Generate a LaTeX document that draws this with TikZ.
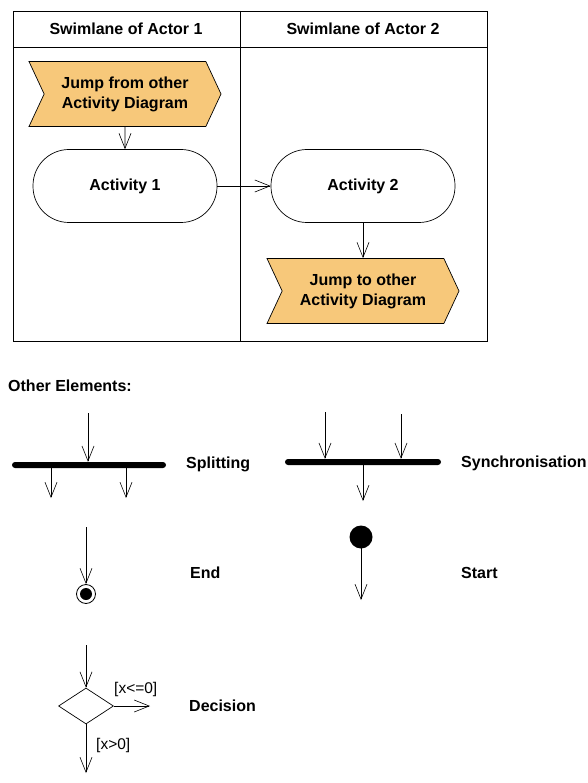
\documentclass[tikz,border=0pt]{standalone}
\usepackage{fontspec}
\setmainfont{Liberation Sans}
\usetikzlibrary{arrows.meta,positioning,shapes.symbols,shapes.geometric}

\definecolor{jumpfill}{RGB}{247,200,122}

\begin{document}
\begin{tikzpicture}[
    x=1pt, y=-1pt,
    txt/.style={font=\bfseries\fontsize{16}{20}\selectfont, align=center, inner sep=0pt},
    guard/.style={font=\fontsize{15.5}{17}\selectfont, inner sep=0pt},
    activity/.style={rectangle, rounded corners=36pt, draw=black, line width=0.7pt, minimum width=184pt, minimum height=73pt, txt},
    jump/.style={signal, signal to=east, signal from=west, signal pointer angle=130, draw=black, line width=0.7pt, fill=jumpfill, minimum width=192pt, minimum height=65pt, txt},
    bar/.style={rectangle, fill=black, rounded corners=3pt, minimum height=6pt, inner sep=0pt},
    flow/.style={-{Straight Barb[length=15pt,width=12pt]}, line width=0.6pt}
]
\useasboundingbox (0,0) rectangle (587,783);

% Swimlanes
\draw[line width=0.8pt] (13,11) rectangle (487,341);
\draw[line width=0.8pt] (13,47) -- (487,47);
\draw[line width=0.8pt] (240,11) -- (240,341);
\node[txt] (lane1) at (126,29) {Swimlane of Actor 1};
\node[txt] (lane2) at (363,29) {Swimlane of Actor 2};

% Activities
\node[jump] (jumpin) at (125,94) {Jump from other\\Activity Diagram};
\node[activity] (act1) at (125,186) {Activity 1};
\node[activity] (act2) at (363,186) {Activity 2};
\node[jump] (jumpout) at (363,291) {Jump to other\\Activity Diagram};

\draw[flow] (jumpin) -- (act1);
\draw[flow] (act1) -- (act2);
\draw[flow] (act2) -- (jumpout);

% Other elements
\node[txt, anchor=west] (other) at (8,386) {Other Elements:};

% Splitting
\node[bar, minimum width=154pt] (split) at (89,465) {};
\coordinate (splitin) at (88,413);
\coordinate (splitl) at (51,498);
\coordinate (splitr) at (126,498);
\draw[flow] (splitin) -- (splitin |- split.north);
\draw[flow] (splitl |- split.center) -- (splitl);
\draw[flow] (splitr |- split.center) -- (splitr);
\node[txt, anchor=west] (splittxt) at (186,464) {Splitting};

% Synchronisation
\node[bar, minimum width=156pt] (sync) at (363,462) {};
\coordinate (syncl) at (325,412);
\coordinate (syncr) at (401,414);
\coordinate (syncout) at (363,501);
\draw[flow] (syncl) -- (syncl |- sync.north);
\draw[flow] (syncr) -- (syncr |- sync.north);
\draw[flow] (syncout |- sync.center) -- (syncout);
\node[txt, anchor=west] (synctxt) at (461,463) {Synchronisation};

% End
\node[circle, draw=black, line width=0.8pt, minimum size=19pt, inner sep=0pt] (endo) at (86,594) {};
\node[circle, fill=black, minimum size=12pt, inner sep=0pt] (endi) at (86,594) {};
\coordinate (endin) at (86,527);
\draw[flow] (endin) -- (endo.north);
\node[txt, anchor=west] (endtxt) at (190,573) {End};

% Start
\node[circle, fill=black, minimum size=23pt, inner sep=0pt] (start) at (361,537) {};
\coordinate (startout) at (361,600);
\draw[flow] (start.center) -- (startout);
\node[txt, anchor=west] (starttxt) at (461,573) {Start};

% Decision
\node[diamond, draw=black, line width=0.7pt, aspect=1.5, minimum width=55pt, minimum height=36pt, inner sep=0pt] (dec) at (86,706) {};
\coordinate (decin) at (86,645);
\coordinate (decright) at (150,706);
\coordinate (decdown) at (86,773);
\draw[flow] (decin) -- (dec.north);
\draw[flow] (dec.east) -- (decright);
\draw[flow] (dec.south) -- (decdown);
\node[guard, anchor=west] (guard1) at (114,689) {[x<=0]};
\node[guard, anchor=west] (guard2) at (96,745) {[x>0]};
\node[txt, anchor=west] (dectxt) at (189,706) {Decision};

\end{tikzpicture}
\end{document}
